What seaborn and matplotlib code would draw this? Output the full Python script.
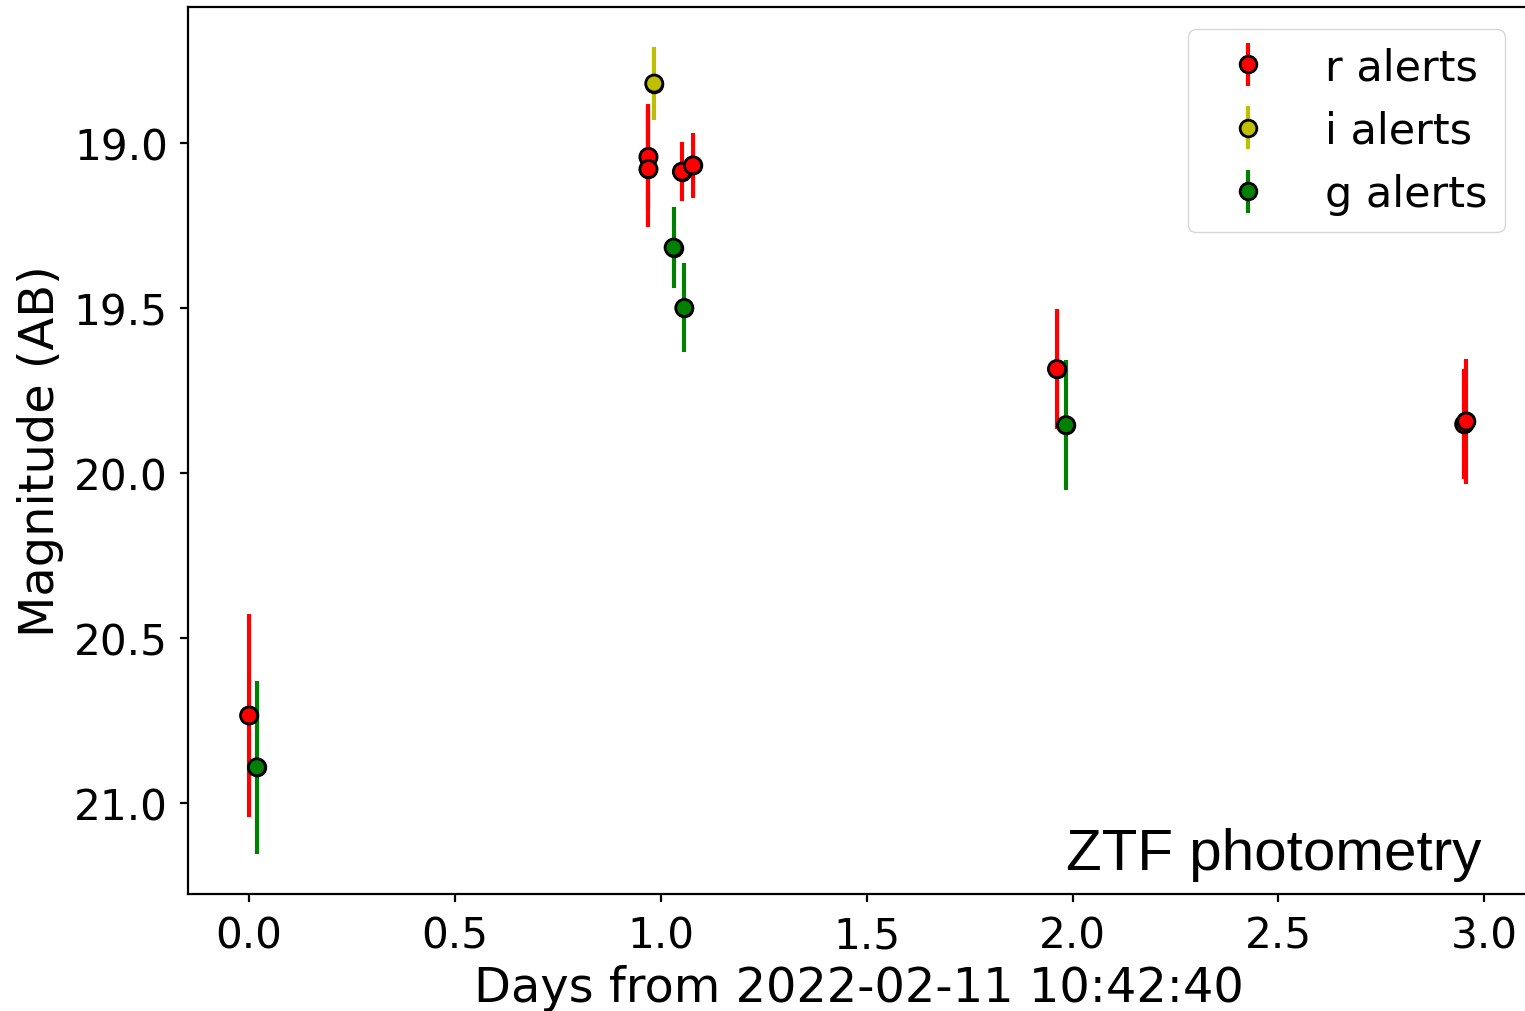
import numpy as np
import pandas as pd
import seaborn as sns
import matplotlib
matplotlib.use("Agg")
import matplotlib.pyplot as plt

# ZTF alert photometry, days since first detection
r_days = [0.0, 0.970, 0.970, 1.051, 1.078, 1.962, 2.951, 2.956]
r_mag = [20.735, 19.042, 19.079, 19.087, 19.068, 19.685, 19.852, 19.844]
r_err = [0.308, 0.160, 0.175, 0.090, 0.098, 0.182, 0.166, 0.189]

i_days = [0.984]
i_mag = [18.820]
i_err = [0.110]

g_days = [0.019, 1.031, 1.057, 1.984]
g_mag = [20.892, 19.317, 19.500, 19.855]
g_err = [0.263, 0.123, 0.135, 0.197]

bands = ["r", "i", "g"]
band_labels = ["r alerts", "i alerts", "g alerts"]
band_colors = {"r": "r", "i": "y", "g": "g"}

df = pd.concat([
    pd.DataFrame({"days": r_days, "mag": r_mag, "err": r_err, "band": "r"}),
    pd.DataFrame({"days": i_days, "mag": i_mag, "err": i_err, "band": "i"}),
    pd.DataFrame({"days": g_days, "mag": g_mag, "err": g_err, "band": "g"}),
], ignore_index=True)

sns.set_style("ticks", rc={"axes.edgecolor": "black", "text.color": "black",
                           "axes.labelcolor": "black", "xtick.color": "black",
                           "ytick.color": "black"})
plt.rcParams["font.family"] = ["DejaVu Sans"]

fig = plt.figure(figsize=(15.25, 10.12), dpi=100)
ax = fig.add_axes([0.1233, 0.1156, 0.880, 0.8765])

for band, lab in zip(bands, band_labels):
    d = df[df["band"] == band]
    ax.errorbar(d["days"], d["mag"], yerr=d["err"], fmt="o", color=band_colors[band],
                ecolor=band_colors[band], elinewidth=3, ms=12, mec="k", mew=2,
                label=lab, zorder=2)

# markers on top
sns.scatterplot(data=df, x="days", y="mag", hue="band", palette=band_colors,
                s=150, edgecolor="k", linewidth=2, legend=False, ax=ax, zorder=3)

ax.set_xlim(-0.1482, 3.111)
ax.set_ylim(21.276, 18.588)
ax.set_xticks(np.arange(0, 3.01, 0.5))
ax.set_yticks(np.arange(19.0, 21.01, 0.5))
ax.tick_params(labelsize=30.4, length=6, width=1.6, pad=8.5)
for s in ax.spines.values():
    s.set_linewidth(1.6)

ax.set_xlabel("Days from 2022-02-11 10:42:40", fontsize=34.5, labelpad=5.4)
ax.set_ylabel("Magnitude (AB)", fontsize=34.5, labelpad=7)

ax.legend(loc="upper right", fontsize=31, borderaxespad=0,
          bbox_to_anchor=(0.9814, 0.9752))
ax.text(0.964, 0.028, "ZTF photometry", transform=ax.transAxes, ha="right", va="baseline",
        fontsize=42, color="black", family=["Liberation Sans", "DejaVu Sans"])

fig.savefig("out.png", dpi=100)
